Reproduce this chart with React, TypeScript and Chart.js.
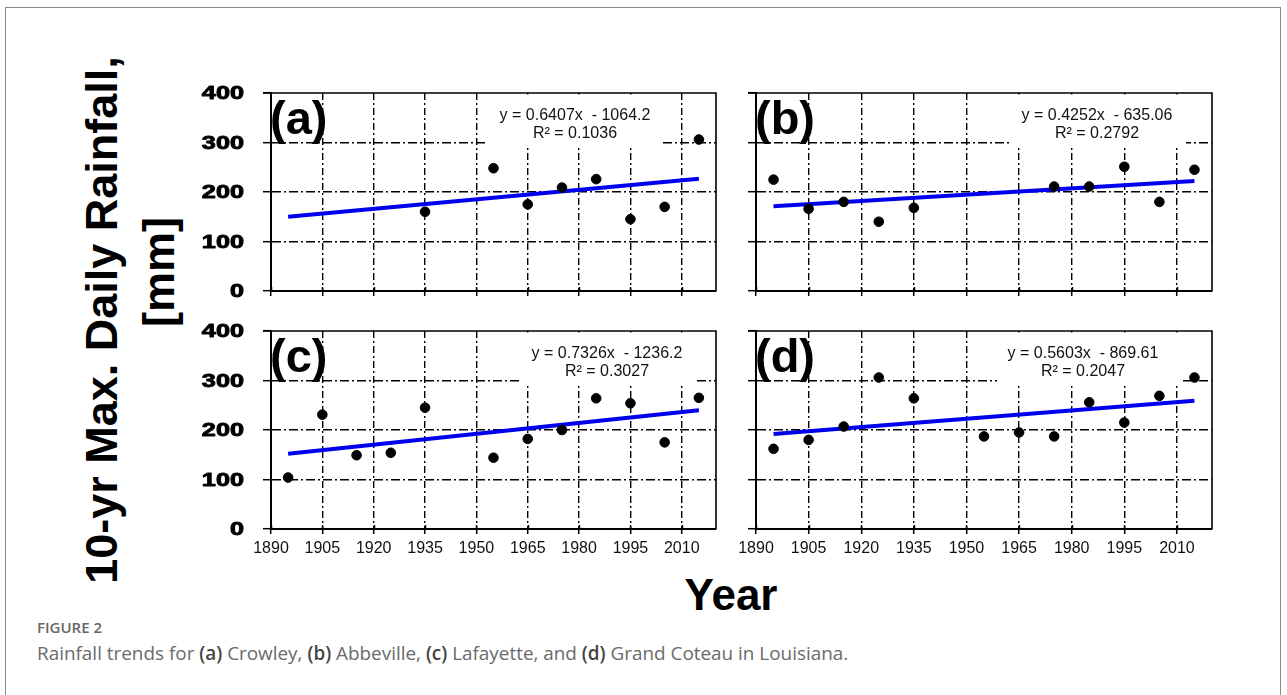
import React, { useEffect, useRef } from 'react';
import { Chart, registerables } from 'chart.js';

Chart.register(...registerables);

// ---------- data ----------
const xTicks = [1890, 1905, 1920, 1935, 1950, 1965, 1980, 1995, 2010];
const yTicks = [0, 100, 200, 300, 400];
const X_MIN = 1890;
const X_MAX = 2020;
const Y_MIN = 0;
const Y_MAX = 400;

const yearsA = [1935, 1955, 1965, 1975, 1985, 1995, 2005, 2015];
const valuesA = [160, 248, 175, 209, 226, 145, 170, 306];

const yearsB = [1895, 1905, 1915, 1925, 1935, 1975, 1985, 1995, 2005, 2015];
const valuesB = [225, 166, 180, 140, 168, 211, 211, 251, 180, 245];

const yearsC = [1895, 1905, 1915, 1925, 1935, 1955, 1965, 1975, 1985, 1995, 2005, 2015];
const valuesC = [104, 231, 149, 154, 245, 144, 182, 200, 264, 254, 175, 265];

const yearsD = [1895, 1905, 1915, 1925, 1935, 1955, 1965, 1975, 1985, 1995, 2005, 2015];
const valuesD = [162, 180, 207, 306, 264, 187, 195, 187, 256, 215, 269, 306];

const trendYears = [1895, 2015];
const trendA = [150, 227];
const trendB = [171, 222];
const trendC = [152, 240];
const trendD = [192, 259];

const panelLabels = ['(a)', '(b)', '(c)', '(d)'];
const equations = ['y = 0.6407x  - 1064.2', 'y = 0.4252x  - 635.06', 'y = 0.7326x  - 1236.2', 'y = 0.5603x  - 869.61'];
const rSquared = ['R² = 0.1036', 'R² = 0.2792', 'R² = 0.3027', 'R² = 0.2047'];

const yTitle1 = '10-yr Max. Daily Rainfall,';
const yTitle2 = '[mm]';
const xTitle = 'Year';

// ---------- layout ----------
const FONT = "'Liberation Sans', Arial, Helvetica, sans-serif";
const PADL = 80;
const PADT = 12;
const PADR = 10;
const PADB = 40;

type PanelCfg = {
  idx: number;
  years: number[];
  values: number[];
  trend: number[];
  left: number;
  top: number;
  right: number;
  bottom: number;
  showY: boolean;
  showX: boolean;
  eqCx: number;
  boxCx: number;
  boxW: number;
};

const panels: PanelCfg[] = [
  { idx: 0, years: yearsA, values: valuesA, trend: trendA, left: 271, top: 93, right: 716, bottom: 291, showY: true, showX: false, eqCx: 304, boxCx: 303, boxW: 174 },
  { idx: 1, years: yearsB, values: valuesB, trend: trendB, left: 756, top: 93, right: 1212, bottom: 291, showY: false, showX: false, eqCx: 341, boxCx: 343, boxW: 174 },
  { idx: 2, years: yearsC, values: valuesC, trend: trendC, left: 271, top: 331, right: 716, bottom: 529, showY: true, showX: true, eqCx: 336, boxCx: 337, boxW: 172 },
  { idx: 3, years: yearsD, values: valuesD, trend: trendD, left: 756, top: 331, right: 1212, bottom: 529, showY: false, showX: true, eqCx: 327, boxCx: 334, boxW: 186 },
];

function Panel({ cfg }: { cfg: PanelCfg }) {
  const ref = useRef<HTMLCanvasElement>(null);
  const w = cfg.right - cfg.left + PADL + PADR;
  const h = cfg.bottom - cfg.top + PADT + PADB;

  useEffect(() => {
    if (!ref.current) return;
    const decor = {
      id: 'decor' + cfg.idx,
      beforeDatasetsDraw(chart: any) {
        const { ctx, chartArea, scales } = chart;
        const { left, top } = chartArea;
        const y300 = scales.y.getPixelForValue(300);
        ctx.save();
        ctx.fillStyle = '#ffffff';
        ctx.fillRect(left + cfg.boxCx - cfg.boxW / 2, top + 1.5, cfg.boxW, y300 + 3.5 - top - 1.5);
        ctx.restore();
      },
      afterDraw(chart: any) {
        const { ctx, chartArea, scales } = chart;
        const { left, top, right, bottom } = chartArea;
        ctx.save();
        // top and right frame
        ctx.strokeStyle = '#000';
        ctx.lineWidth = 1.6;
        ctx.beginPath();
        ctx.moveTo(left - 8, top);
        ctx.lineTo(right, top);
        ctx.lineTo(right, bottom);
        ctx.stroke();
        // inward x ticks
        ctx.lineWidth = 1.5;
        for (const v of xTicks) {
          const px = Math.round(scales.x.getPixelForValue(v)) + 0.5;
          ctx.beginPath();
          ctx.moveTo(px, bottom);
          ctx.lineTo(px, bottom - 4);
          ctx.stroke();
        }
        // y tick labels (wide heavy bold)
        if (cfg.showY) {
          ctx.fillStyle = '#000';
          ctx.strokeStyle = '#000';
          ctx.lineWidth = 0.9;
          ctx.lineJoin = 'round';
          ctx.font = `bold 19px ${FONT}`;
          ctx.textAlign = 'right';
          ctx.textBaseline = 'middle';
          for (const v of yTicks) {
            const py = scales.y.getPixelForValue(v);
            ctx.save();
            ctx.translate(left - 27, py + 1);
            ctx.scale(1.33, 1);
            ctx.fillText(String(v), 0, 0);
            ctx.strokeText(String(v), 0, 0);
            ctx.restore();
          }
        }
        // panel label
        ctx.fillStyle = '#000';
        ctx.font = `bold 47px ${FONT}`;
        ctx.textAlign = 'left';
        ctx.textBaseline = 'alphabetic';
        ctx.fillText(panelLabels[cfg.idx], left - 1, top + 41);
        // equation
        ctx.font = `16px ${FONT}`;
        ctx.textAlign = 'center';
        ctx.textBaseline = 'middle';
        ctx.fillStyle = '#111';
        ctx.fillText(equations[cfg.idx], left + cfg.eqCx, top + 23);
        ctx.fillText(rSquared[cfg.idx], left + cfg.eqCx, top + 41);
        ctx.restore();
      },
    };

    const hideEdge = (c: any) => {
      const v = c.tick ? c.tick.value : null;
      return v === X_MIN || v === X_MAX || v === Y_MIN || v === Y_MAX ? 'rgba(0,0,0,0)' : '#000';
    };

    const chart = new Chart(ref.current, {
      type: 'scatter',
      data: {
        datasets: [
          {
            data: cfg.years.map((x, i) => ({ x, y: cfg.values[i] })),
            backgroundColor: '#000',
            borderColor: '#000',
            borderWidth: 1,
            pointRadius: 4.8,
            pointHoverRadius: 4.8,
            showLine: false,
          },
          {
            data: trendYears.map((x, i) => ({ x, y: cfg.trend[i] })),
            borderColor: 'rgb(0,0,238)',
            backgroundColor: 'rgb(0,0,238)',
            borderWidth: 4,
            pointRadius: 0,
            pointHoverRadius: 0,
            showLine: true,
            fill: false,
          },
        ],
      },
      options: {
        animation: false,
        responsive: false,
        devicePixelRatio: 1,
        events: [],
        layout: { padding: { left: 0, top: PADT, right: PADR, bottom: 0 } },
        plugins: { legend: { display: false }, tooltip: { enabled: false } },
        scales: {
          x: {
            type: 'linear',
            min: X_MIN,
            max: X_MAX,
            afterBuildTicks: (s: any) => {
              s.ticks = xTicks.map((v) => ({ value: v }));
            },
            afterFit: (s: any) => {
              s.height = PADB;
            },
            ticks: {
              display: cfg.showX,
              autoSkip: false,
              maxRotation: 0,
              minRotation: 0,
              padding: 5,
              color: '#111',
              font: { family: FONT, size: 16 },
              callback: (v: any) => String(v),
            },
            grid: {
              color: hideEdge,
              lineWidth: 1.4,
              tickColor: '#000',
              tickLength: 5,
              tickWidth: 1.5,
              tickBorderDash: [],
            },
            border: { display: true, color: '#000', width: 2, dash: [7, 3, 2, 3] },
          },
          y: {
            type: 'linear',
            min: Y_MIN,
            max: Y_MAX,
            afterBuildTicks: (s: any) => {
              s.ticks = yTicks.map((v) => ({ value: v }));
            },
            afterFit: (s: any) => {
              s.width = PADL;
            },
            ticks: { display: false },
            grid: {
              color: hideEdge,
              lineWidth: 1.4,
              tickColor: '#000',
              tickLength: 8,
              tickWidth: 1.5,
              tickBorderDash: [],
            },
            border: { display: true, color: '#000', width: 2, dash: [9, 3, 2, 3] },
          },
        },
      } as any,
      plugins: [decor],
    });
    return () => chart.destroy();
  }, []);

  return (
    <canvas
      ref={ref}
      width={w}
      height={h}
      style={{ position: 'absolute', left: cfg.left - PADL, top: cfg.top - PADT, width: w, height: h }}
    />
  );
}

export default function App() {
  const boldCap: React.CSSProperties = { fontWeight: 600, color: '#444' };
  return (
    <div
      style={{
        position: 'fixed',
        left: 0,
        top: 0,
        width: 1287,
        height: 695,
        overflow: 'hidden',
        background: '#fff',
      }}
    >
      <div
        style={{
          position: 'absolute',
          left: 5,
          top: 7,
          width: 1276,
          height: 760,
          border: '1px solid #8a8a8a',
          boxSizing: 'border-box',
        }}
      />
      {panels.map((p) => (
        <Panel key={p.idx} cfg={p} />
      ))}
      <div
        style={{
          position: 'absolute',
          left: 99.4 - 300,
          top: 320 - 23,
          width: 600,
          height: 46,
          lineHeight: '46px',
          textAlign: 'center',
          font: `bold 45px ${FONT}`,
          color: '#000',
          transform: 'rotate(-90deg)',
          whiteSpace: 'nowrap',
        }}
      >
        {yTitle1}
      </div>
      <div
        style={{
          position: 'absolute',
          left: 156.4 - 300,
          top: 272 - 23,
          width: 600,
          height: 46,
          lineHeight: '46px',
          textAlign: 'center',
          font: `bold 45px ${FONT}`,
          color: '#000',
          transform: 'rotate(-90deg)',
          whiteSpace: 'nowrap',
        }}
      >
        {yTitle2}
      </div>
      <div
        style={{
          position: 'absolute',
          left: 731 - 100,
          top: 570,
          width: 200,
          height: 44,
          lineHeight: '44px',
          textAlign: 'center',
          font: `bold 44px ${FONT}`,
          color: '#000',
        }}
      >
        {xTitle}
      </div>
      <div
        style={{
          position: 'absolute',
          left: 37,
          top: 619.7,
          lineHeight: 1,
          fontFamily: "'Open Sans', sans-serif",
          fontSize: 15,
          fontWeight: 600,
          color: '#666',
          whiteSpace: 'nowrap',
        }}
      >
        FIGURE 2
      </div>
      <div
        style={{
          position: 'absolute',
          left: 37,
          top: 644.2,
          lineHeight: 1,
          fontFamily: "'Open Sans', sans-serif",
          fontSize: 18.9,
          fontWeight: 400,
          color: '#6a6a6a',
          whiteSpace: 'nowrap',
        }}
      >
        Rainfall trends for <span style={boldCap}>(a)</span> Crowley, <span style={boldCap}>(b)</span> Abbeville,{' '}
        <span style={boldCap}>(c)</span> Lafayette, and <span style={boldCap}>(d)</span> Grand Coteau in Louisiana.
      </div>
    </div>
  );
}
